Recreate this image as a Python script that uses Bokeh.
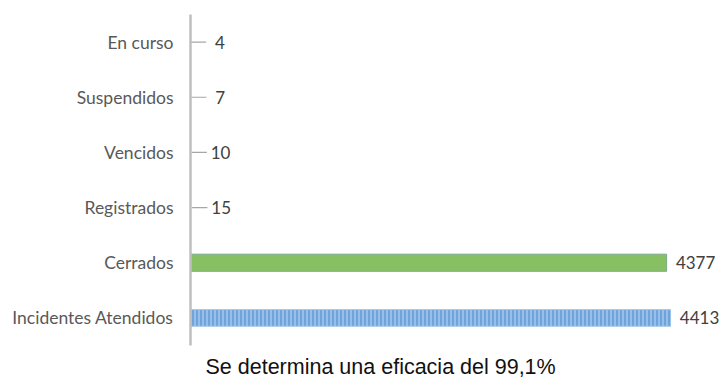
from bokeh.plotting import figure
from bokeh.models import ColumnDataSource, FactorRange, Range1d, Title
from bokeh.core.properties import value
from bokeh.embed import file_html
from bokeh.resources import INLINE

# Data (bottom-to-top order as drawn)
categories = ["Incidentes Atendidos", "Cerrados", "Registrados", "Vencidos", "Suspendidos", "En curso"]
counts = [4413, 4377, 15, 10, 7, 4]
title_text = "Se determina una eficacia del 99,1%"

LABEL_FONT = "Lato"
GRAY = "#595959"

p = figure(width=723, height=386, output_backend="svg", toolbar_location=None,
           y_range=FactorRange(*categories), x_range=Range1d(0, 4900),
           min_border_left=190, min_border_right=0, min_border_top=14, min_border_bottom=41)
p.outline_line_color = None
p.xgrid.visible = False
p.ygrid.visible = False
p.xaxis.visible = False
p.background_fill_color = "white"
p.border_fill_color = "white"

ya = p.yaxis[0]
ya.axis_line_color = "#bfbfbf"
ya.axis_line_width = 2.5
ya.major_tick_line_color = None
ya.minor_tick_line_color = None
ya.major_tick_out = 0
ya.major_tick_in = 0
ya.major_label_standoff = 17
ya.major_label_text_font = LABEL_FONT
ya.major_label_text_font_size = "17.5px"
ya.major_label_text_color = GRAY

small = [(c, v) for c, v in zip(categories, counts) if v < 1000]

# Incidentes Atendidos: blue hatched bar
p.hbar(y=[categories[0]], right=[counts[0]], left=0, height=0.3,
       fill_color="#6fa3dc", line_color="#9dc3e6", line_width=1,
       hatch_pattern="vertical_line", hatch_color="#b4d2f2", hatch_scale=4, hatch_weight=1.2)
# Cerrados: green bar
p.hbar(y=[categories[1]], right=[counts[1]], left=0, height=0.31,
       fill_color="#86c062", line_color="#79aa8a", line_width=1)

# Leader dashes for the tiny values
LEADER = 140
src_small = ColumnDataSource(dict(y=[c for c, _ in small], x0=[v for _, v in small],
                                  x1=[v + LEADER for _, v in small]))
p.segment(x0="x0", x1="x1", y0="y", y1="y", source=src_small, line_color="#a6a6a6", line_width=1.2)

# Value labels
src_lab = ColumnDataSource(dict(y=categories, x=counts, t=[str(v) for v in counts]))
p.text(x="x", y="y", text="t", source=src_lab, x_offset=29, text_align="center",
       text_baseline="middle", text_font=value(LABEL_FONT), text_font_size="17px",
       text_color="#404040")

# Bottom caption
cap = Title(text=title_text, align="left", offset=15, text_font="Liberation Sans",
            text_font_size="21.5px", text_font_style="normal", text_color="#111111",
            standoff=14, vertical_align="bottom")
p.add_layout(cap, "below")

open("out.html", "w").write(file_html(p, INLINE))
